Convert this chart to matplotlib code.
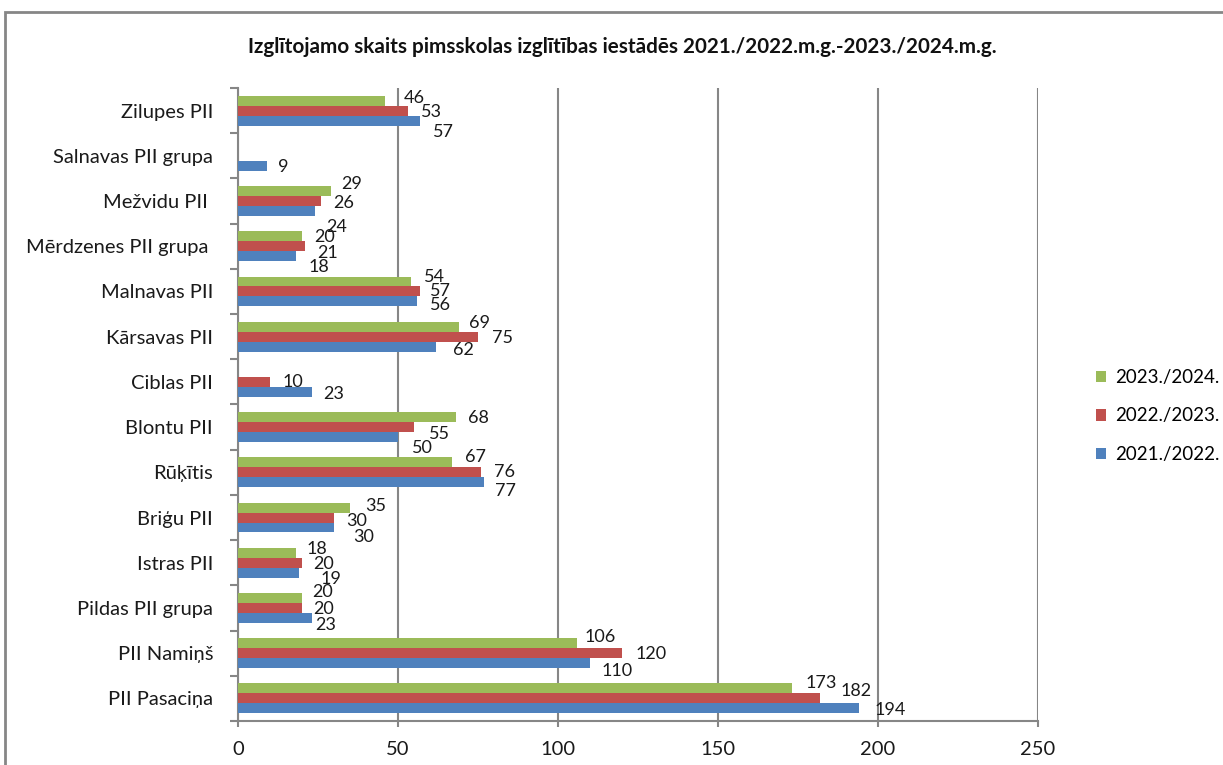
import numpy as np
import matplotlib
matplotlib.use('Agg')
import matplotlib.pyplot as plt
from matplotlib.patches import Rectangle

plt.rcParams['font.family'] = ['Lato', 'DejaVu Sans']

# categories listed top -> bottom as in the chart
categories = ['Zilupes PII', 'Salnavas PII grupa', 'Mežvidu PII ', 'Mērdzenes PII grupa ',
              'Malnavas PII', 'Kārsavas PII', 'Ciblas PII', 'Blontu PII', 'Rūķītis',
              'Briģu PII', 'Istras PII', 'Pildas PII grupa', 'PII Namiņš', 'PII Pasaciņa']
nan = np.nan
y2021 = [57, 9, 24, 18, 56, 62, 23, 50, 77, 30, 19, 23, 110, 194]
y2022 = [53, nan, 26, 21, 57, 75, 10, 55, 76, 30, 20, 20, 120, 182]
y2023 = [46, nan, 29, 20, 54, 69, nan, 68, 67, 35, 18, 20, 106, 173]
series_names = ['2021./2022.', '2022./2023.', '2023./2024.']
xticks = [0, 50, 100, 150, 200, 250]
title = 'Izglītojamo skaits pimsskolas izglītības iestādēs 2021./2022.m.g.-2023./2024.m.g.'

# data label nudges in pixels (dx right of bar end, dy down from bar centre)
off_green = [(19, -3), None, (10, -7), (12, 1), (13, -5), (10, -4), None, (12, 1),
             (13, -5), (15, -2), (11, -4), (10, -6), (7, -6), (14, -5)]
off_red = [(13, 1), None, (12, 2), (12, 7), (10, 0), (14, 1), (13, 0), (15, 7),
           (13, 0), (12, 3), (11, 1), (11, 1), (14, 1), (20, -7)]
off_blue = [(13, 11), (11, 1), (11, 16), (13, 11), (13, 4), (17, 3), (12, 2), (14, 11),
            (11, 9), (19, 10), (22, 6), (4, 7), (12, 8), (16, 2)]

colors = {'2021./2022.': '#4F81BD', '2022./2023.': '#C0504D', '2023./2024.': '#9BBB59'}
grey = '#868686'
fs = 14.5
fs_lab = 13
fs_leg = 13.5

fig = plt.figure(figsize=(12.23, 7.65), dpi=100)
ax = fig.add_axes([238 / 1223, 1 - 721 / 765, 800 / 1223, 633 / 765])

n = len(categories)
pos = np.arange(n)[::-1]
h = 0.22

bars = []
for vals, name, shift, offs in [(y2021, series_names[0], -h, off_blue),
                                (y2022, series_names[1], 0, off_red),
                                (y2023, series_names[2], h, off_green)]:
    b = ax.barh(pos + shift, vals, height=h, color=colors[name], label=name, zorder=3)
    bars.append(b)
    for v, p, o in zip(vals, pos, offs):
        if np.isnan(v) or o is None:
            continue
        ax.annotate(str(int(v)), xy=(v, p + shift), xytext=(o[0], -o[1]),
                    textcoords='offset pixels', ha='left', va='center',
                    fontsize=fs_lab, color='#1a1a1a', zorder=4)

ax.set_xlim(0, 250)
ax.set_ylim(-0.5, n - 0.5)
ax.set_xticks(xticks)
ax.set_xticklabels([str(t) for t in xticks], fontsize=fs, color='#1a1a1a')
ax.set_yticks(pos)
ax.set_yticklabels(categories, fontsize=fs, color='#1a1a1a')
ax.set_yticks(np.arange(-0.5, n, 1), minor=True)
ax.tick_params(axis='y', which='major', length=0, pad=18)
ax.tick_params(axis='y', which='minor', length=6, width=1.5, color=grey, direction='out')
ax.tick_params(axis='x', length=4.5, width=1.5, color=grey, direction='out', pad=10)
ax.xaxis.grid(True, color=grey, linewidth=1.5, zorder=0)
for s in ['top', 'right']:
    ax.spines[s].set_visible(False)
for s in ['left', 'bottom']:
    ax.spines[s].set_color(grey)
    ax.spines[s].set_linewidth(1.5)

fig.text(622 / 1223, 1 - 47 / 765, title, ha='center', va='center',
         fontsize=14.9, fontweight='bold', color='#111111')

handles = [bars[2], bars[1], bars[0]]
fig.legend(handles, [series_names[2], series_names[1], series_names[0]],
           loc='center left', bbox_to_anchor=(1079 / 1223, 1 - 416 / 765),
           frameon=False, fontsize=fs_leg, handlelength=0.55, handleheight=0.55,
           handletextpad=0.45, labelspacing=1.15)

fig.patches.append(Rectangle((5 / 1223, -0.1), 1.2, 1.1 - 12 / 765,
                             transform=fig.transFigure, fill=False,
                             edgecolor=grey, linewidth=2))

fig.savefig('out.png', dpi=100)
